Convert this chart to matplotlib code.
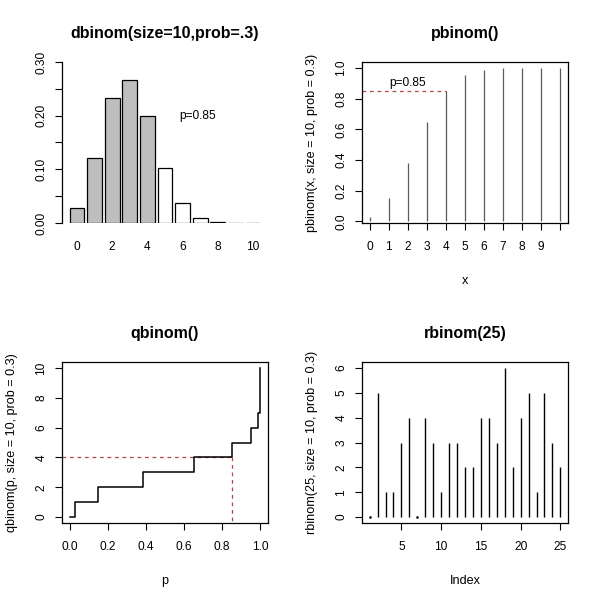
import matplotlib
matplotlib.use("Agg")
import matplotlib.pyplot as plt

plt.rcParams["font.family"] = ["Liberation Sans", "DejaVu Sans"]

# data
k_vals = [0, 1, 2, 3, 4, 5, 6, 7, 8, 9, 10]
dens = [0.0282, 0.1211, 0.2335, 0.2668, 0.2001, 0.1029, 0.0368, 0.0090, 0.0014, 0.0001, 0.0000]
bar_fill = ["#BEBEBE"] * 5 + ["white"] * 6
bar_ticklabels = ["0", "2", "4", "6", "8", "10"]

cdf = [0.0282, 0.1493, 0.3828, 0.6496, 0.8497, 0.9527, 0.9894, 0.9984, 0.9999, 1.0000, 1.0000]
cdf_ticklabels = ["0", "1", "2", "3", "4", "5", "6", "7", "8", "9", ""]

q_p = [0.0, 0.0282, 0.1493, 0.3828, 0.6496, 0.8497, 0.9527, 0.9894, 0.9984, 0.9999, 1.0]
q_val = [0, 1, 2, 3, 4, 5, 6, 7, 8, 9, 10]

r_idx = list(range(1, 26))
r_val = [0, 5, 1, 1, 3, 4, 0, 4, 3, 1, 3, 3, 2, 2, 4, 4, 3, 6, 2, 4, 5, 1, 5, 3, 2]

p_cut = 0.85
k_cut = 4

TICK = 8.6
LAB = 9.1
TITLE = 11.5
RED = "#B84444"

fig = plt.figure(figsize=(6, 6), dpi=100)
W, H = 206 / 600, 161 / 600
ax1 = fig.add_axes([62 / 600, 1 - 223 / 600, W, H])
ax2 = fig.add_axes([362 / 600, 1 - 223 / 600, W, H])
ax3 = fig.add_axes([62 / 600, 1 - 523 / 600, W, H])
ax4 = fig.add_axes([362 / 600, 1 - 523 / 600, W, H])


def r_style(ax, title, xlabel=None, ylabel=None):
    ax.set_title(title, fontsize=TITLE, fontweight="bold", pad=17)
    ax.tick_params(direction="out", length=5, width=0.8, labelsize=TICK, color="black")
    ax.tick_params(axis="x", pad=8)
    ax.tick_params(axis="y", pad=5.5)
    for lbl in ax.get_yticklabels():
        lbl.set_rotation(90)
        lbl.set_va("center")
    for sp in ax.spines.values():
        sp.set_linewidth(0.9)
    if xlabel is not None:
        ax.set_xlabel(xlabel, fontsize=LAB)
        ax.xaxis.set_label_coords(0.5, -0.32)
    if ylabel is not None:
        ax.set_ylabel(ylabel, fontsize=LAB)
        ax.yaxis.set_label_coords(-0.215, 0.5)


# dbinom barplot
lefts = [0.2 + 1.2 * k for k in k_vals]
ax1.bar(lefts, dens, width=1.0, align="edge", color=bar_fill, edgecolor="black", linewidth=0.9)
ax1.set_xlim(-0.32, 13.72)
ax1.set_ylim(0, 0.30)
ax1.set_yticks([0, 0.05, 0.10, 0.15, 0.20, 0.25, 0.30])
ax1.set_yticklabels(["0.00", "", "0.10", "", "0.20", "", "0.30"])
ax1.set_xticks([0.7 + 1.2 * k for k in k_vals[::2]])
ax1.set_xticklabels(bar_ticklabels)
for s in ["top", "right", "bottom"]:
    ax1.spines[s].set_visible(False)
r_style(ax1, "dbinom(size=10,prob=.3)")
ax1.tick_params(axis="x", length=0, pad=13)
ax1.text(8.9, 0.20, "p=0.85", fontsize=TICK, ha="center", va="center")

# pbinom
ax2.vlines(k_vals, 0, cdf, color="#5A5A5A", linewidth=0.9)
ax2.set_xlim(-0.4, 10.4)
ax2.set_ylim(0.0282 - 0.0389, 1.0389)
ax2.set_xticks(k_vals)
ax2.set_xticklabels(cdf_ticklabels)
ax2.set_yticks([0, 0.2, 0.4, 0.6, 0.8, 1.0])
ax2.set_yticklabels(["0.0", "0.2", "0.4", "0.6", "0.8", "1.0"])
ax2.plot([-0.4, k_cut], [p_cut, p_cut], color=RED, linewidth=0.9, linestyle=(0, (3, 3)))
ax2.text(2.0, 0.905, "p=0.85", fontsize=TICK, ha="center", va="center")
r_style(ax2, "pbinom()", "x", "pbinom(x, size = 10, prob = 0.3)")

# qbinom
ax3.plot([-0.04, p_cut], [k_cut, k_cut], color=RED, linewidth=0.9, linestyle=(0, (3, 3)), zorder=1)
ax3.plot([p_cut, p_cut], [k_cut, -0.4], color=RED, linewidth=0.9, linestyle=(0, (3, 3)), zorder=1)
ax3.step(q_p, q_val, where="post", color="black", linewidth=1.1, zorder=2)
ax3.set_xlim(-0.04, 1.04)
ax3.set_ylim(-0.4, 10.4)
ax3.set_xticks([0, 0.2, 0.4, 0.6, 0.8, 1.0])
ax3.set_xticklabels(["0.0", "0.2", "0.4", "0.6", "0.8", "1.0"])
ax3.set_yticks([0, 2, 4, 6, 8, 10])
r_style(ax3, "qbinom()", "p", "qbinom(p, size = 10, prob = 0.3)")

# rbinom
ax4.vlines(r_idx, 0, r_val, color="black", linewidth=1.0)
zero_idx = [i for i, v in zip(r_idx, r_val) if v == 0]
ax4.plot(zero_idx, [0] * len(zero_idx), "s", color="black", markersize=0.8)
ax4.set_xlim(0.04, 25.96)
ax4.set_ylim(-0.24, 6.24)
ax4.set_xticks([5, 10, 15, 20, 25])
ax4.set_yticks([0, 1, 2, 3, 4, 5, 6])
r_style(ax4, "rbinom(25)", "Index", "rbinom(25, size = 10, prob = 0.3)")

fig.savefig("out.png", dpi=100)
